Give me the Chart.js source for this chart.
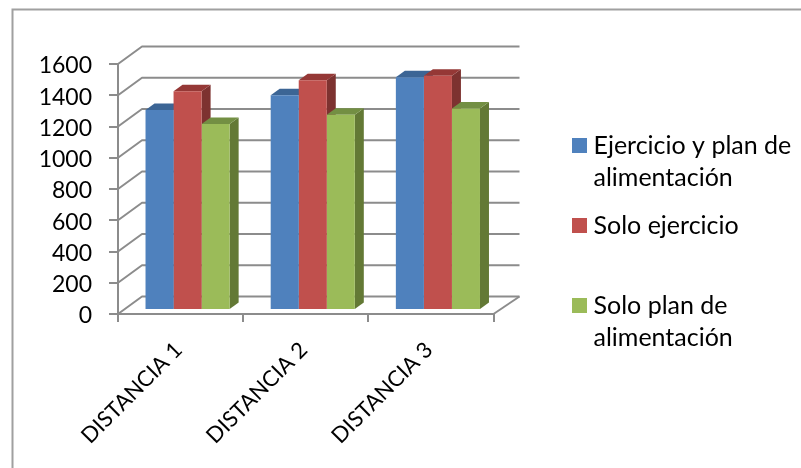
<!DOCTYPE html>
<html>
<head>
<meta charset="utf-8">
<style>
  html, body { margin: 0; padding: 0; background: #fff; }
  canvas { display: block; }
</style>
<script src="https://cdn.jsdelivr.net/npm/chart.js@4"></script>
</head>
<body>
<canvas id="chart" width="801" height="468"></canvas>
<script>
const categories = ['DISTANCIA 1', 'DISTANCIA 2', 'DISTANCIA 3'];
const ejercicioPlan = [1280, 1375, 1490];
const soloEjercicio = [1400, 1470, 1500];
const soloPlan = [1190, 1250, 1290];
const seriesNames = ['Ejercicio y plan de alimentación', 'Solo ejercicio', 'Solo plan de alimentación'];
const legendLines = [['Ejercicio y plan de', 'alimentación'], ['Solo ejercicio', ''], ['Solo plan de', 'alimentación']];
const frontColors = ['#4f81bd', '#c0504d', '#9bbb59'];
const topColors = ['#3c6595', '#953836', '#738f43'];
const sideColors = ['#345580', '#7d3230', '#637935'];
const yTicks = [0, 200, 400, 600, 800, 1000, 1200, 1400, 1600];

const GRID = '#8c8c8c';
const BAR_SHIFT = { x: 7, y: -4 };
const BAR_DEPTH = { x: 9, y: -6.5 };
const WALL_DEPTH = { x: 24, y: -17.5 };

// small colour square for the legend, wider than the slot chart.js reserves
function legendSquare(color) {
  const c = document.createElement('canvas');
  c.width = 15;
  c.height = 15;
  const g = c.getContext('2d');
  g.fillStyle = color;
  g.fillRect(0, 0, 15, 15);
  return c;
}

const frame = {
  id: 'frame',
  beforeDraw(chart) {
    const ctx = chart.ctx;
    ctx.save();
    ctx.strokeStyle = '#a0a0a0';
    ctx.lineWidth = 2;
    ctx.beginPath();
    ctx.moveTo(12.5, 468);
    ctx.lineTo(12.5, 9.5);
    ctx.lineTo(801, 9.5);
    ctx.stroke();
    ctx.restore();
  }
};

// back wall, floor and the fake depth of each bar
const depth = {
  id: 'depth',
  afterLayout(chart) {
    const legend = chart.legend;
    legend.left = 562;
    legend.right = 801;
    legend.top = 117;
    legend.bottom = 468;
  },
  beforeDatasetsDraw(chart) {
    const ctx = chart.ctx;
    const area = chart.chartArea;
    const y = chart.scales.y;

    ctx.save();
    ctx.strokeStyle = GRID;
    ctx.lineWidth = 2;
    ctx.lineJoin = 'round';
    yTicks.forEach((v) => {
      const py = y.getPixelForValue(v);
      ctx.beginPath();
      ctx.moveTo(area.left, py);
      ctx.lineTo(area.left + WALL_DEPTH.x, py + WALL_DEPTH.y);
      ctx.lineTo(area.right + WALL_DEPTH.x + 2, py + WALL_DEPTH.y);
      ctx.stroke();
    });
    const floor = y.getPixelForValue(0);
    ctx.beginPath();
    ctx.moveTo(area.right, floor);
    ctx.lineTo(area.right + WALL_DEPTH.x + 2, floor + WALL_DEPTH.y);
    ctx.stroke();
    ctx.restore();

    ctx.save();
    ctx.translate(BAR_SHIFT.x, BAR_SHIFT.y);
    chart.data.datasets.forEach((ds, i) => {
      chart.getDatasetMeta(i).data.forEach((bar) => {
        const { x, y: top, base, width } = bar.getProps(['x', 'y', 'base', 'width'], true);
        const l = x - width / 2;
        const r = x + width / 2;
        ctx.fillStyle = sideColors[i];
        ctx.beginPath();
        ctx.moveTo(r, top);
        ctx.lineTo(r + BAR_DEPTH.x, top + BAR_DEPTH.y);
        ctx.lineTo(r + BAR_DEPTH.x, base + BAR_DEPTH.y);
        ctx.lineTo(r, base);
        ctx.closePath();
        ctx.fill();
        ctx.fillStyle = topColors[i];
        ctx.beginPath();
        ctx.moveTo(l, top);
        ctx.lineTo(l + BAR_DEPTH.x, top + BAR_DEPTH.y);
        ctx.lineTo(r + BAR_DEPTH.x, top + BAR_DEPTH.y);
        ctx.lineTo(r, top);
        ctx.closePath();
        ctx.fill();
      });
    });
    // the front faces drawn by chart.js stay under this translate
  },
  afterDatasetsDraw(chart) {
    chart.ctx.restore();
  }
};

new Chart(document.getElementById('chart'), {
  type: 'bar',
  data: {
    labels: categories,
    datasets: [
      { label: seriesNames[0], data: ejercicioPlan, backgroundColor: frontColors[0] },
      { label: seriesNames[1], data: soloEjercicio, backgroundColor: frontColors[1] },
      { label: seriesNames[2], data: soloPlan, backgroundColor: frontColors[2] }
    ]
  },
  options: {
    responsive: false,
    animation: false,
    layout: { padding: { top: 64, right: 143, bottom: 0, left: 0 } },
    datasets: { bar: { categoryPercentage: 0.672, barPercentage: 1 } },
    scales: {
      x: {
        afterFit(scale) { scale.height = 154; },
        grid: { drawOnChartArea: false, color: GRID, lineWidth: 2, tickLength: 8 },
        border: { color: GRID, width: 2 },
        ticks: {
          color: '#000',
          font: { family: 'Lato', size: 22 },
          minRotation: 45,
          maxRotation: 45,
          padding: 15,
          labelOffset: -2
        }
      },
      y: {
        min: 0,
        max: 1600,
        afterFit(scale) { scale.width = 118; },
        grid: { drawOnChartArea: false, color: GRID, lineWidth: 2, tickLength: 9 },
        border: { color: GRID, width: 2 },
        ticks: {
          color: '#000',
          font: { family: 'Lato', size: 23 },
          stepSize: 200,
          padding: 17,
          labelOffset: 2,
          callback: (v) => String(v)
        }
      }
    },
    plugins: {
      tooltip: { enabled: false },
      legend: {
        position: 'right',
        align: 'start',
        onClick: null,
        labels: {
          color: '#000',
          font: { family: 'Lato', size: 25, lineHeight: 32 / 25 },
          padding: 16,
          usePointStyle: true,
          pointStyleWidth: 3,
          generateLabels() {
            return legendLines.map((lines, i) => ({
              text: lines,
              fontColor: '#000',
              pointStyle: legendSquare(frontColors[i]),
              datasetIndex: i
            }));
          }
        }
      }
    }
  },
  plugins: [frame, depth]
});
</script>
</body>
</html>
